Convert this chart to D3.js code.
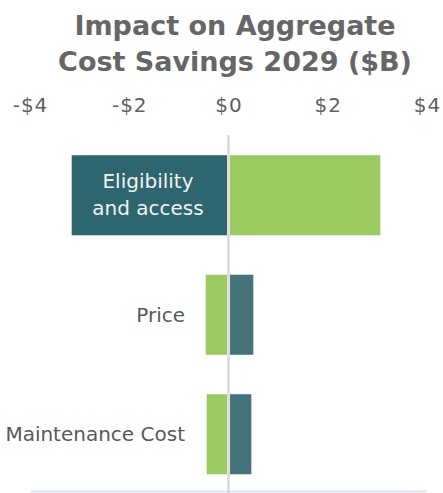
<!DOCTYPE html>
<html><head><meta charset="utf-8">
<script src="https://cdn.jsdelivr.net/npm/d3@7"></script>
<style>body{margin:0;background:#fff;}svg{display:block;}</style>
</head><body>
<script>
const categories = ["Eligibility and access", "Price", "Maintenance Cost"];
const negValues = [-3.16, -0.46, -0.44];
const posValues = [3.06, 0.5, 0.46];
const tickValues = [-4, -2, 0, 2, 4];
const tickLabels = ["-$4", "-$2", "$0", "$2", "$4"];
const titleLines = ["Impact on Aggregate", "Cost Savings 2029 ($B)"];

const W = 443, H = 493;
const svg = d3.select("body").append("svg").attr("width", W).attr("height", H);
const font = "Verdana, 'DejaVu Sans', sans-serif";

const x = d3.scaleLinear().domain([-4, 4]).range([30, 427]);
const y = d3.scaleBand().domain(categories).range([135.5, 494]).paddingInner(0.33).paddingOuter(0.165);

svg.append("g").selectAll("text").data(titleLines).join("text")
  .attr("x", 235).attr("y", (d, i) => 35 + i * 35.5)
  .attr("text-anchor", "middle").attr("font-family", font)
  .attr("font-weight", "bold").attr("font-size", 27).attr("fill", "#666666").text(d => d);

const axis = d3.axisTop(x).tickValues(tickValues).tickFormat((d, i) => tickLabels[i]).tickSize(0);
const ag = svg.append("g").attr("transform", "translate(0,115)").call(axis);
ag.select(".domain").remove();
ag.selectAll("text").attr("font-family", font).attr("font-size", 20).attr("letter-spacing", 1)
  .attr("fill", "#5f5f5f").attr("dy", 0);

// bottom line
svg.append("line").attr("x1", 31).attr("x2", 426).attr("y1", 491.5).attr("y2", 491.5)
  .attr("stroke", "#d3dcf2").attr("stroke-width", 1.5);

const negColors = ["#2d666e", "#9bca63", "#9bca63"];
const posColors = ["#9bca63", "#44737a", "#44737a"];

svg.append("g").selectAll("rect").data(categories).join("rect")
  .attr("x", (d, i) => x(negValues[i])).attr("width", (d, i) => x(0) - 1.5 - x(negValues[i]))
  .attr("y", d => y(d)).attr("height", y.bandwidth())
  .attr("fill", (d, i) => negColors[i]);
svg.append("g").selectAll("rect").data(categories).join("rect")
  .attr("x", x(0) + 1.5).attr("width", (d, i) => x(posValues[i]) - x(0) - 1.5)
  .attr("y", d => y(d)).attr("height", y.bandwidth())
  .attr("fill", (d, i) => posColors[i]);

// zero line
svg.append("line").attr("x1", x(0)).attr("x2", x(0)).attr("y1", 135).attr("y2", H)
  .attr("stroke", "#d9d9d9").attr("stroke-width", 2.5);

// category labels
const lab = svg.append("g");
categories.forEach((c, i) => {
  if (i === 0) {
    const cx = 148;
    const t = lab.append("text").attr("x", cx).attr("text-anchor", "middle")
      .attr("font-family", font).attr("font-size", 20).attr("fill", "#f2f2f2");
    t.append("tspan").attr("x", cx).attr("y", y(c) + 33).text("Eligibility");
    t.append("tspan").attr("x", cx).attr("y", y(c) + 60).text("and access");
  } else {
    lab.append("text").attr("x", 185).attr("y", y(c) + y.bandwidth() / 2 + 7)
      .attr("text-anchor", "end").attr("font-family", font).attr("font-size", 20)
      .attr("fill", "#595959").text(c);
  }
});
</script>
</body></html>
